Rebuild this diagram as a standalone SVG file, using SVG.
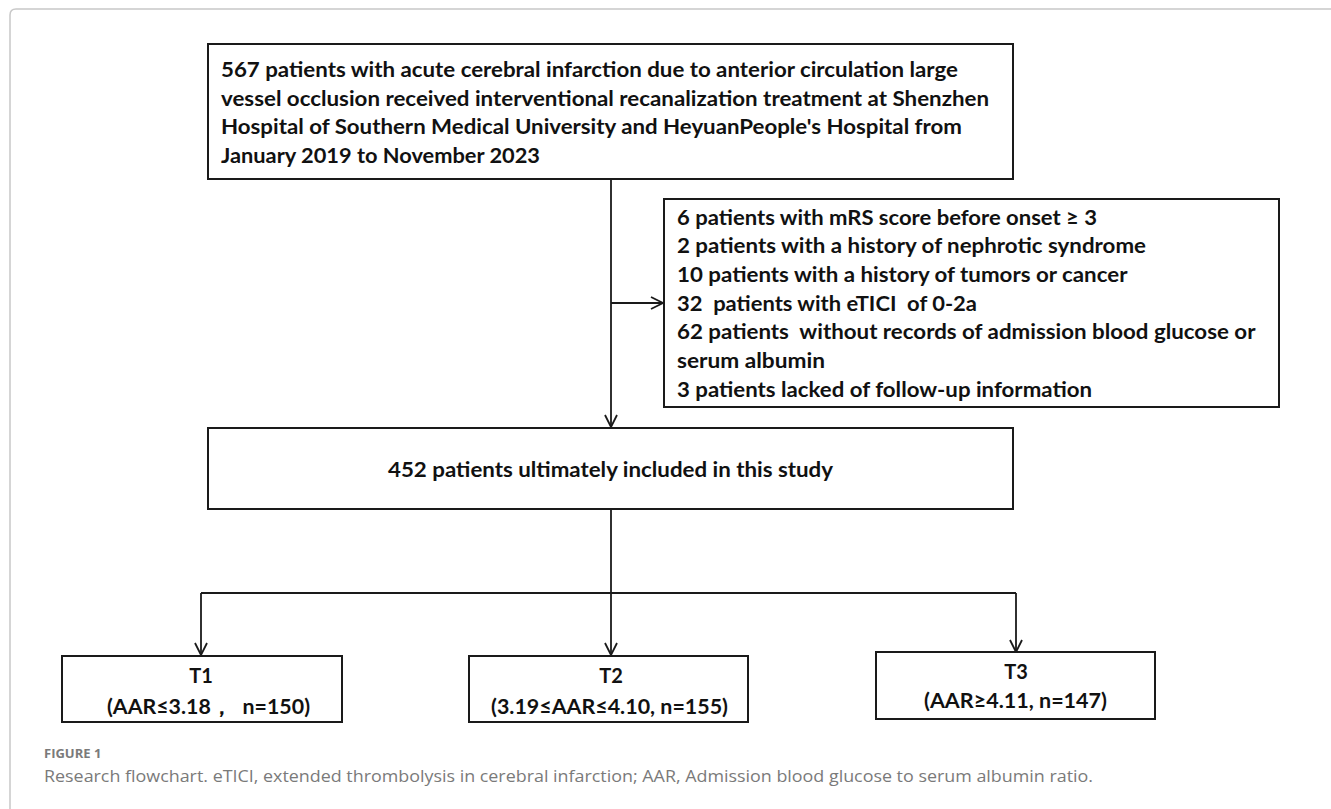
<svg xmlns="http://www.w3.org/2000/svg" width="1331" height="809" viewBox="0 0 1331 809">
<style>
.box{fill:#fff;stroke:#1a1a1a;stroke-width:2}
.t{font-family:Lato,"Liberation Sans",sans-serif;font-weight:bold;font-size:20px;fill:#111}
.c{fill:none;stroke:#1a1a1a;stroke-width:1.8}
.cap{font-family:"Open Sans","Liberation Sans",sans-serif;fill:#7a7a7a}
</style>
<defs>
<marker id="arr" markerUnits="userSpaceOnUse" markerWidth="16" markerHeight="16" viewBox="-14 -8 16 16" refX="0" refY="0" orient="auto">
<path d="M-12,-6 L0,0 L-12,6" fill="none" stroke="#1a1a1a" stroke-width="1.8"/>
</marker>
</defs>
<rect width="1331" height="809" fill="#fff"/>
<path d="M10,809 V15 Q10,9 16,9 H1331" fill="none" stroke="#c8c8c8" stroke-width="1.5"/>
<g id="connectors">
<path class="c" d="M611,179 V427" marker-end="url(#arr)"/>
<path class="c" d="M611,303 H663" marker-end="url(#arr)"/>
<path class="c" d="M611,509 V593"/>
<path class="c" d="M201,593 H1016"/>
<path class="c" d="M201,593 V655" marker-end="url(#arr)"/>
<path class="c" d="M611,593 V655" marker-end="url(#arr)"/>
<path class="c" d="M1016,593 V652" marker-end="url(#arr)"/>
</g>
<g id="node-source">
<rect class="box" x="208" y="44" width="805" height="135"/>
<text class="t" font-size="21">
<tspan x="221" y="77" textLength="737" lengthAdjust="spacingAndGlyphs">567 patients with acute cerebral infarction due to anterior circulation large</tspan>
<tspan x="221" y="106" textLength="768" lengthAdjust="spacingAndGlyphs">vessel occlusion received interventional recanalization treatment at Shenzhen</tspan>
<tspan x="221" y="134" textLength="741" lengthAdjust="spacingAndGlyphs">Hospital of Southern Medical University and HeyuanPeople's Hospital from</tspan>
<tspan x="221" y="163" textLength="319" lengthAdjust="spacingAndGlyphs">January 2019 to November 2023</tspan>
</text>
</g>
<g id="node-excluded">
<rect class="box" x="664" y="199" width="615" height="208"/>
<text class="t">
<tspan x="677" y="225" textLength="420" lengthAdjust="spacingAndGlyphs">6 patients with mRS score before onset ≥ 3</tspan>
<tspan x="677" y="253" textLength="469" lengthAdjust="spacingAndGlyphs">2 patients with a history of nephrotic syndrome</tspan>
<tspan x="677" y="282" textLength="450" lengthAdjust="spacingAndGlyphs">10 patients with a history of tumors or cancer</tspan>
<tspan x="677" y="311" textLength="300" lengthAdjust="spacingAndGlyphs" xml:space="preserve">32  patients with eTICI  of 0-2a</tspan>
<tspan x="677" y="339" textLength="578" lengthAdjust="spacingAndGlyphs" xml:space="preserve">62 patients  without records of admission blood glucose or</tspan>
<tspan x="677" y="368" textLength="148" lengthAdjust="spacingAndGlyphs">serum albumin</tspan>
<tspan x="677" y="397" textLength="415" lengthAdjust="spacingAndGlyphs">3 patients lacked of follow-up information</tspan>
</text>
</g>
<g id="node-included">
<rect class="box" x="208" y="428" width="805" height="81"/>
<text class="t" x="388" y="477" textLength="445" lengthAdjust="spacingAndGlyphs">452 patients ultimately included in this study</text>
</g>
<g id="node-t1">
<rect class="box" x="62" y="656" width="280" height="66"/>
<text class="t" x="201" y="683" text-anchor="middle">T1</text>
<text class="t" x="107" y="714" textLength="203" lengthAdjust="spacingAndGlyphs" xml:space="preserve">(AAR≤3.18，  n=150)</text>
</g>
<g id="node-t2">
<rect class="box" x="469" y="656" width="279" height="66"/>
<text class="t" x="611" y="683" text-anchor="middle">T2</text>
<text class="t" x="491" y="714" textLength="237" lengthAdjust="spacingAndGlyphs">(3.19≤AAR≤4.10, n=155)</text>
</g>
<g id="node-t3">
<rect class="box" x="876" y="652" width="279" height="67"/>
<text class="t" x="1016" y="679" text-anchor="middle">T3</text>
<text class="t" x="924" y="708" textLength="183" lengthAdjust="spacingAndGlyphs">(AAR≥4.11, n=147)</text>
</g>
<text class="cap" x="44" y="758" font-size="13" font-weight="bold" fill="#8a8a8a">FIGURE 1</text>
<text class="cap" x="44" y="782" font-size="16" textLength="1049" lengthAdjust="spacingAndGlyphs">Research flowchart. eTICI, extended thrombolysis in cerebral infarction; AAR, Admission blood glucose to serum albumin ratio.</text>
</svg>
